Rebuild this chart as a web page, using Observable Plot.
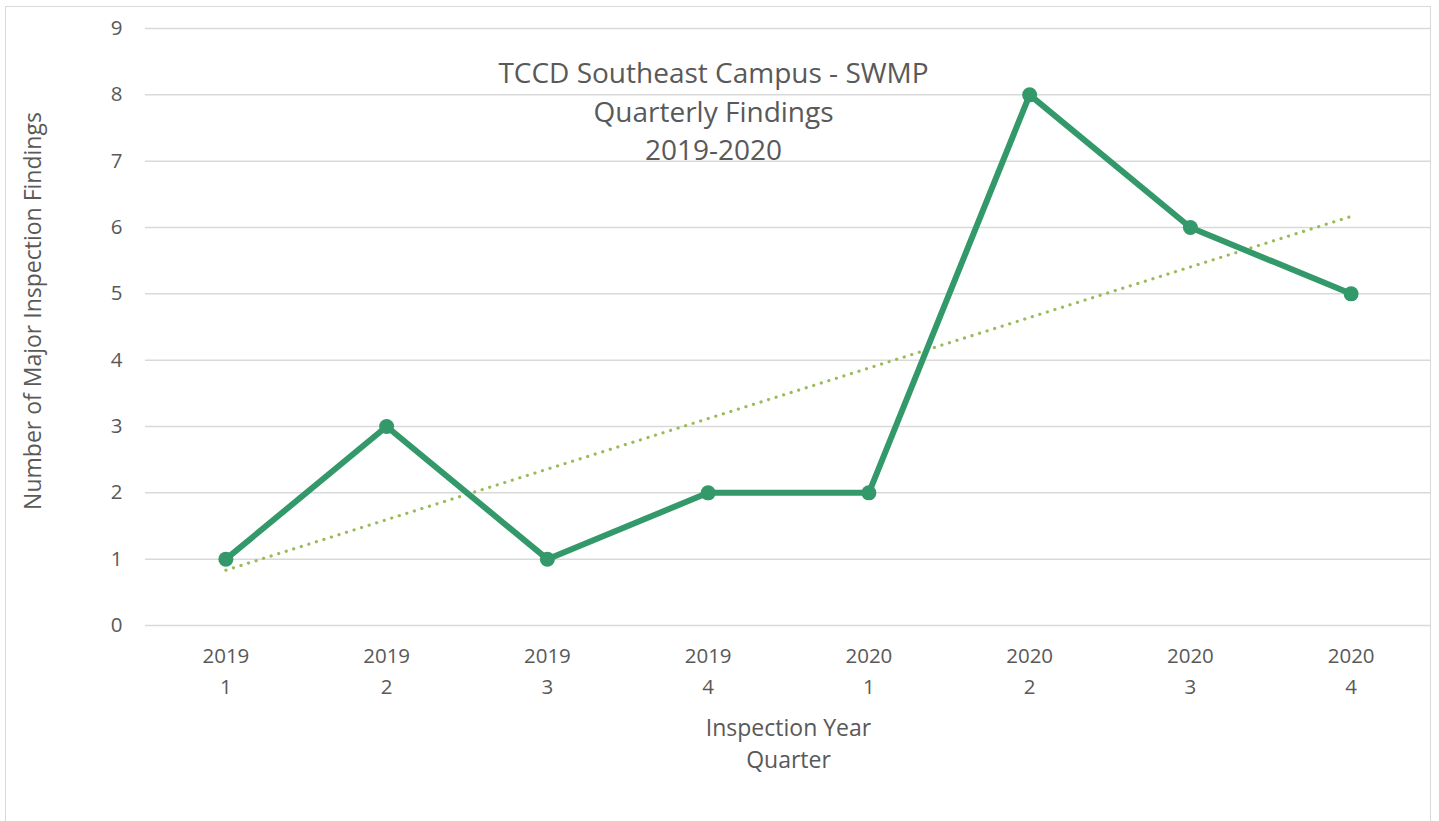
<!DOCTYPE html>
<html>
<head>
<meta charset="utf-8">
<script src="https://cdn.jsdelivr.net/npm/d3@7"></script>
<script src="https://cdn.jsdelivr.net/npm/@observablehq/plot@0.6"></script>
<style>
  html, body { margin: 0; padding: 0; background: #fff; }
  #wrap { position: relative; width: 1439px; height: 821px; overflow: hidden; }
  #frame { position: absolute; left: 5px; top: 6px; width: 1426px; height: 900px; border: 1.5px solid #d9d9d9; box-sizing: border-box; pointer-events: none; }
  #chart { position: absolute; left: 0; top: 0; }
</style>
</head>
<body>
<div id="wrap"><div id="chart"></div><div id="frame"></div></div>
<script>
const years = [2019, 2019, 2019, 2019, 2020, 2020, 2020, 2020];
const quarters = [1, 2, 3, 4, 1, 2, 3, 4];
const findings = [1, 3, 1, 2, 2, 8, 6, 5];
const yTicks = [0, 1, 2, 3, 4, 5, 6, 7, 8, 9];
const titleLines = "TCCD Southeast Campus - SWMP\nQuarterly Findings\n2019-2020";
const xTitle = "Inspection Year\nQuarter";
const yTitle = "Number of Major Inspection Findings";

const data = findings.map((v, i) => ({i: i + 1, year: years[i], quarter: quarters[i], value: v}));

const font = "'Open Sans', sans-serif";
const textColor = "#595959";
const lineColor = "#33996a";
const trendColor = "#9bbb59";

const chart = Plot.plot({
  width: 1439,
  height: 821,
  marginLeft: 145,
  marginRight: 8,
  marginTop: 28,
  marginBottom: 196,
  style: {fontFamily: font, fontSize: "20px", color: textColor, background: "transparent"},
  x: {domain: [0.5, 8.5], axis: null},
  y: {domain: [0, 9], axis: null},
  marks: [
    Plot.ruleY(yTicks, {stroke: "#d9d9d9", strokeWidth: 1.5}),
    Plot.axisY(yTicks, {tickSize: 0, tickPadding: 23, fontSize: 20.5, fill: textColor, label: null, tickFormat: d => String(d)}),
    Plot.axisX(data.map(d => d.i), {
      tickSize: 0, tickPadding: 16, fontSize: 20.5, fill: textColor, label: null, lineHeight: 1.51,
      tickFormat: i => `${years[i - 1]}\n${quarters[i - 1]}`
    }),
    Plot.linearRegressionY(data, {x: "i", y: "value", ci: 0, stroke: trendColor, strokeWidth: 3.2, strokeDasharray: "0.1 7.8", strokeLinecap: "round"}),
    Plot.line(data, {x: "i", y: "value", stroke: lineColor, strokeWidth: 6, strokeLinejoin: "round"}),
    Plot.dot(data, {x: "i", y: "value", r: 7.5, fill: lineColor, stroke: null}),
    Plot.text([titleLines], {frameAnchor: "top", dx: -75, fontSize: 28, fill: textColor, lineHeight: 1.37, lineAnchor: "middle", dy: 81}),
    Plot.text([xTitle], {frameAnchor: "bottom", dx: 0, dy: 116, fontSize: 23, fill: textColor, lineHeight: 1.39, lineAnchor: "middle"}),
    Plot.text([yTitle], {frameAnchor: "left", textAnchor: "middle", dx: -112, dy: -16, rotate: -90, fontSize: 23, fill: textColor})
  ]
});
document.getElementById("chart").appendChild(chart);
</script>
</body>
</html>
